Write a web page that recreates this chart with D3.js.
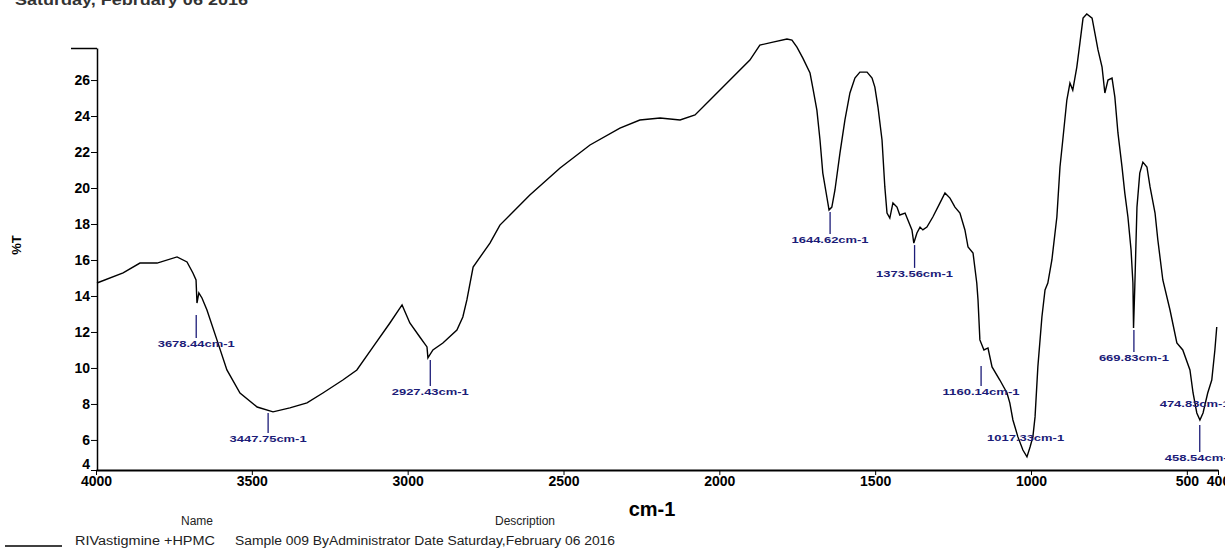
<!DOCTYPE html>
<html lang="en">
<head>
<meta charset="utf-8">
<script src="https://d3js.org/d3.v7.min.js"></script>
<style>
  body { margin: 0; background: #fff; }
  svg text { font-family: "Liberation Sans", Arial, sans-serif; }
  .tick text { font-weight: bold; font-size: 14px; fill: #000; }
  .peak text { font-weight: bold; font-size: 9px; fill: #1c1c78; }
</style>
</head>
<body>
<div id="chart"></div>
<script>
// spectrum: wavenumber (cm-1) and %T
var wavenumber = [3997,3913,3859,3804,3740,3708,3689,3679,3676,3670,3660,3644,3612,3580,3538,3483,3432,3378,3323,3272,
  3208,3163,3111,3057,3018,2993,2961,2938,2935,2919,2887,2842,2823,2810,2790,2736,2704,2608,2511,2415,
  2319,2255,2190,2126,2078,2030,1966,1902,1870,1828,1783,1767,1751,1732,1709,1700,1687,1677,1668,1655,
  1648,1639,1629,1613,1597,1581,1565,1549,1526,1510,1501,1491,1478,1469,1462,1453,1443,1430,1421,1404,
  1395,1382,1376,1366,1356,1347,1334,1315,1292,1276,1260,1244,1228,1212,1202,1186,1174,1170,1164,1151,
  1138,1125,1100,1077,1068,1058,1042,1026,1013,1003,994,987,978,965,955,946,933,917,907,898,
  885,875,866,853,843,833,821,804,795,785,772,763,753,740,731,721,708,699,689,679,
  673,671,667,660,651,641,628,618,602,593,577,554,532,513,490,480,468,458,448,433,
  420,410,404];
var transmittance = [14.72,15.28,15.83,15.83,16.17,15.89,15.28,14.89,13.61,14.17,13.89,13.22,11.56,9.89,8.61,7.83,7.56,7.78,8.06,8.61,
  9.33,9.89,11.17,12.5,13.5,12.5,11.72,11.17,10.56,11.0,11.39,12.11,12.83,13.78,15.61,16.94,17.94,19.61,21.11,22.39,
  23.33,23.78,23.89,23.78,24.06,24.89,26.0,27.11,27.94,28.11,28.28,28.22,27.83,27.22,26.39,25.56,24.33,22.67,20.83,19.5,
  18.78,18.94,19.89,21.94,23.78,25.28,26.11,26.44,26.44,26.11,25.61,24.5,22.67,20.06,18.61,18.33,19.17,18.94,18.5,18.61,
  18.22,17.67,16.94,17.5,17.83,17.67,17.83,18.39,19.17,19.72,19.44,18.94,18.61,17.67,16.72,16.39,14.72,13.78,11.56,11.0,
  11.11,10.06,9.33,8.61,8.06,7.11,6.17,5.44,5.06,5.61,6.17,7.28,10.06,12.83,14.33,14.72,16.0,18.39,21.17,22.67,
  24.89,25.83,25.44,26.72,28.06,29.44,29.67,29.44,28.61,27.67,26.72,25.28,26.0,26.11,25.06,23.06,21.17,19.72,18.39,16.56,
  14.72,12.22,14.5,18.94,20.83,21.44,21.17,20.06,18.61,17.11,14.89,13.22,11.39,11.0,9.89,8.61,7.5,7.11,7.5,8.61,
  9.33,11.0,12.28];

// peak picks: label, wavenumber, stem top %T, stem bottom %T
var peakLabels = ["3678.44cm-1","3447.75cm-1","2927.43cm-1","1644.62cm-1","1373.56cm-1","1160.14cm-1","1017.33cm-1","669.83cm-1","474.83cm-1","458.54cm-1"];
var peakWn     = [3678.44, 3447.75, 2927.43, 1644.62, 1373.56, 1160.14, 1017.33, 669.83, 474.83, 458.54];
var peakTop    = [12.94, 7.5, 10.44, 18.67, 16.83, 10.11, 6.44, 12.11, 8.33, 6.83];
var peakBottom = [11.67, 6.39, 9.0, 17.44, 15.56, 9.0, 6.44, 10.89, 8.33, 5.33];

var xTicks = [4000,3500,3000,2500,2000,1500,1000,500,400];
var yTicks = [4.33,6,8,10,12,14,16,18,20,22,24,26,27.78];
var yTickLabels = ["4","6","8","10","12","14","16","18","20","22","24","26",""];

var W = 1225, H = 550;
var svg = d3.select("#chart").append("svg").attr("width", W).attr("height", H);

var x = d3.scaleLinear().domain([4000, 400]).range([96, 1218]);
var y = d3.scaleLinear().domain([4.33, 27.78]).range([470, 48]);

// header date, cut at the top edge
svg.append("text").attr("x", 15).attr("y", 5)
  .attr("font-size", 14).attr("font-weight", "bold").attr("fill", "#333")
  .attr("textLength", 233).attr("lengthAdjust", "spacingAndGlyphs")
  .text("Saturday, February 06 2016");

// axes
var xAxis = svg.append("g").attr("transform", "translate(0,470)")
  .call(d3.axisBottom(x).tickValues(xTicks).tickSize(5).tickSizeOuter(0).tickFormat(d3.format("d")));
xAxis.select(".domain").attr("stroke-width", 2);
xAxis.selectAll(".tick text").attr("dy", "0.55em");

var yAxis = svg.append("g").attr("transform", "translate(97,0)")
  .call(d3.axisLeft(y).tickValues(yTicks).tickSize(6).tickSizeOuter(0)
    .tickFormat(function(d, i) { return yTickLabels[i]; }));
yAxis.select(".domain").attr("stroke-width", 1.5);
yAxis.selectAll(".tick text").attr("x", -7);
yAxis.selectAll(".tick").filter(function(d) { return d === 4.33; })
  .select("text").attr("dy", "-0.1em");
yAxis.selectAll(".tick").filter(function(d) { return d === 27.78; })
  .select("line").attr("x2", -26).attr("stroke-width", 1.5);

svg.append("text")
  .attr("transform", "translate(21,245) rotate(-90)")
  .attr("text-anchor", "middle").attr("font-size", 13).attr("font-weight", "bold")
  .text("%T");

svg.append("text").attr("x", 652).attr("y", 516)
  .attr("text-anchor", "middle").attr("font-size", 20).attr("font-weight", "bold")
  .text("cm-1");

// spectrum
var pts = wavenumber.map(function(w, i) { return [w, transmittance[i]]; });
svg.append("path").datum(pts)
  .attr("fill", "none").attr("stroke", "#000").attr("stroke-width", 1.4)
  .attr("d", d3.line().x(function(d) { return x(d[0]); }).y(function(d) { return y(d[1]); }));

// peak annotations
var peaks = svg.append("g").attr("class", "peak").selectAll("g")
  .data(peakLabels).enter().append("g");
peaks.append("line")
  .attr("x1", function(d, i) { return x(peakWn[i]); })
  .attr("x2", function(d, i) { return x(peakWn[i]); })
  .attr("y1", function(d, i) { return y(peakTop[i]); })
  .attr("y2", function(d, i) { return y(peakBottom[i]); })
  .attr("stroke", "#1c1c78").attr("stroke-width", 1.3);
peaks.append("text")
  .attr("x", function(d, i) { return x(peakWn[i]); })
  .attr("y", function(d, i) { return y(peakBottom[i]) + 9; })
  .attr("text-anchor", "middle")
  .attr("textLength", function(d) { return d.length * 7; })
  .attr("lengthAdjust", "spacingAndGlyphs")
  .text(function(d) { return d; });

// legend at the bottom
svg.append("text").attr("x", 197).attr("y", 525).attr("text-anchor", "middle")
  .attr("font-size", 12).attr("fill", "#222").text("Name");
svg.append("text").attr("x", 525).attr("y", 525).attr("text-anchor", "middle")
  .attr("font-size", 12).attr("fill", "#222").text("Description");
svg.append("line").attr("x1", 5).attr("x2", 62).attr("y1", 546).attr("y2", 546)
  .attr("stroke", "#000").attr("stroke-width", 1.5);
svg.append("text").attr("x", 75).attr("y", 545)
  .attr("font-size", 12).attr("fill", "#222")
  .attr("textLength", 140).attr("lengthAdjust", "spacingAndGlyphs")
  .text("RIVastigmine +HPMC");
svg.append("text").attr("x", 235).attr("y", 545)
  .attr("font-size", 12).attr("fill", "#222")
  .attr("textLength", 380).attr("lengthAdjust", "spacingAndGlyphs")
  .text("Sample 009 ByAdministrator Date  Saturday,February 06 2016");
</script>
</body>
</html>
